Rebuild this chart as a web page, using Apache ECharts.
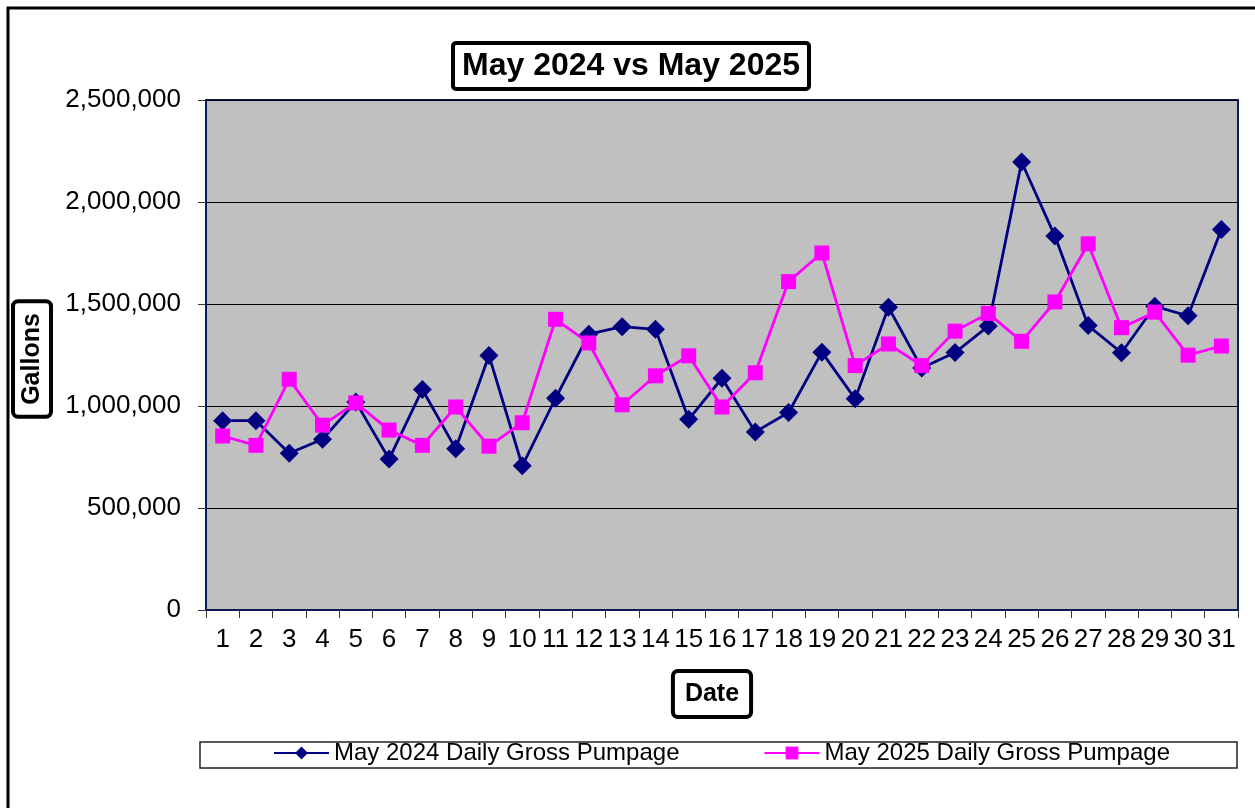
<!DOCTYPE html>
<html>
<head>
<meta charset="utf-8">
<script src="https://cdn.jsdelivr.net/npm/echarts@6/dist/echarts.min.js"></script>
<style>
  html, body { margin: 0; padding: 0; background: #fff; }
  #main { width: 1255px; height: 808px; }
</style>
</head>
<body>
<div id="main"></div>
<script>
// 日期 (days of May)
const days = ['1','2','3','4','5','6','7','8','9','10','11','12','13','14','15','16',
  '17','18','19','20','21','22','23','24','25','26','27','28','29','30','31']

// daily gross pumpage, gallons
const may2024 = [928000, 928000, 768000, 837000, 1020000, 740000, 1081000, 790000,
  1248000, 707000, 1038000, 1352000, 1389000, 1376000, 935000, 1136000, 873000,
  968000, 1264000, 1035000, 1484000, 1186000, 1262000, 1392000, 2196000, 1833000,
  1394000, 1261000, 1489000, 1442000, 1865000]
const may2025 = [853000, 807000, 1131000, 906000, 1015000, 882000, 807000, 995000,
  803000, 918000, 1425000, 1309000, 1006000, 1148000, 1246000, 995000, 1163000,
  1610000, 1750000, 1198000, 1304000, 1198000, 1367000, 1454000, 1317000, 1510000,
  1795000, 1384000, 1460000, 1249000, 1294000]

const seriesNames = ['May 2024 Daily Gross Pumpage', 'May 2025 Daily Gross Pumpage']

const font = "'Liberation Sans', Arial, sans-serif"

const option = {
    animation: false,
    textStyle: { fontFamily: font },
    title: {
        text: 'May 2024 vs May 2025',
        left: 453,
        top: 43,
        padding: [5, 9],
        borderWidth: 4,
        borderColor: '#000',
        borderRadius: 3,
        textStyle: {
            fontFamily: font,
            fontSize: 32,
            fontWeight: 'bold',
            color: '#000',
            lineHeight: 36
        }
    },
    grid: {
        left: 206,
        right: 17,
        top: 100,
        bottom: 198,
        show: true,
        backgroundColor: '#c0c0c0',
        borderColor: '#0b1a58',
        borderWidth: 2
    },
    legend: {
        data: seriesNames,
        left: 273,
        top: 741,
        itemWidth: 55,
        itemHeight: 16,
        itemGap: 84,
        padding: 0,
        textStyle: { fontFamily: font, fontSize: 24, color: '#000' }
    },
    xAxis: {
        type: 'category',
        data: days,
        boundaryGap: true,
        axisLine: { lineStyle: { color: '#0b1a58', width: 2 } },
        axisTick: { show: true, length: 8, interval: 0, lineStyle: { color: '#333' } },
        axisLabel: { interval: 0, margin: 17, fontSize: 26, color: '#000', fontFamily: font },
        splitLine: { show: false }
    },
    yAxis: {
        type: 'value',
        min: 0,
        max: 2500000,
        interval: 500000,
        axisLine: { show: true, lineStyle: { color: '#0b1a58', width: 2 } },
        axisTick: { show: true, length: 8, lineStyle: { color: '#333' } },
        axisLabel: {
            margin: 25,
            fontSize: 26,
            color: '#000',
            fontFamily: font,
            formatter: v => v.toLocaleString('en-US')
        },
        splitLine: { show: true, lineStyle: { color: '#000', width: 1 } }
    },
    graphic: [
        {
            // 外框
            type: 'rect',
            shape: { x: 8, y: 8, width: 1262, height: 822 },
            style: { fill: 'none', stroke: '#000', lineWidth: 3 },
            silent: true
        },
        {
            type: 'rect',
            shape: { x: 200, y: 742, width: 1037, height: 26 },
            style: { fill: 'none', stroke: '#222', lineWidth: 1.5 },
            silent: true,
            z: -1
        },
        {
            type: 'text',
            x: 712,
            y: 694,
            style: {
                text: 'Date',
                font: "bold 25px 'Liberation Sans', Arial, sans-serif",
                fill: '#000',
                align: 'center',
                verticalAlign: 'middle',
                lineHeight: 30,
                padding: [6, 10],
                borderColor: '#000',
                borderWidth: 4,
                borderRadius: 3,
                backgroundColor: '#fff'
            }
        },
        {
            type: 'text',
            x: 32,
            y: 359,
            rotation: Math.PI / 2,
            style: {
                text: 'Gallons',
                font: "bold 25px 'Liberation Sans', Arial, sans-serif",
                fill: '#000',
                align: 'center',
                verticalAlign: 'middle',
                lineHeight: 28,
                padding: [3, 10],
                borderColor: '#000',
                borderWidth: 4,
                borderRadius: 3,
                backgroundColor: '#fff'
            }
        }
    ],
    series: [
        {
            name: seriesNames[0],
            type: 'line',
            data: may2024,
            color: '#000080',
            symbol: 'diamond',
            symbolSize: 19,
            lineStyle: { width: 2.8, color: '#000080' },
            itemStyle: { color: '#000080' }
        },
        {
            name: seriesNames[1],
            type: 'line',
            data: may2025,
            color: '#ff00ff',
            symbol: 'rect',
            symbolSize: 15,
            lineStyle: { width: 2.8, color: '#ff00ff' },
            itemStyle: { color: '#ff00ff' }
        }
    ]
}

const myChart = echarts.init(document.getElementById('main'))
myChart.setOption(option)
</script>
</body>
</html>
